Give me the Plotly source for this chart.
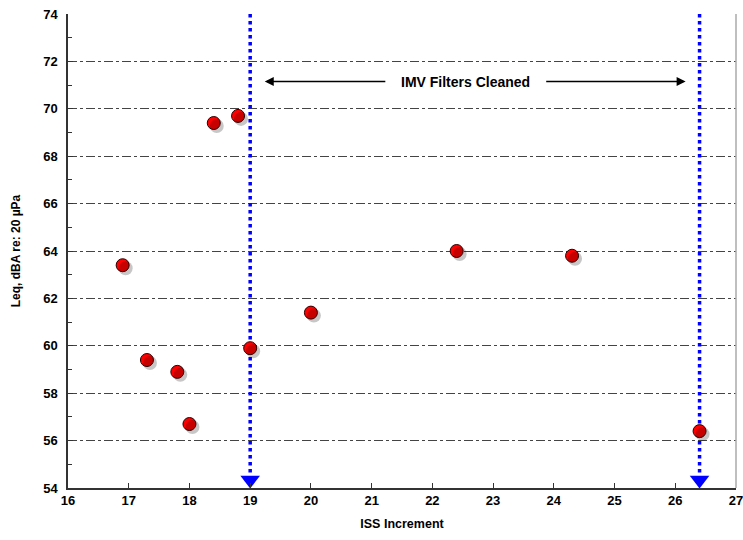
import plotly.graph_objects as go

# Data
iss_increment = [16.9, 17.3, 17.8, 18.0, 18.4, 18.8, 19.0, 20.0, 22.4, 24.3, 26.4]
leq_dba = [63.4, 59.4, 58.9, 56.7, 69.4, 69.7, 59.9, 61.4, 64.0, 63.8, 56.4]
cleaning_events = [19.0, 26.4]
x_ticks = list(range(16, 28))
y_ticks = list(range(54, 75, 2))
x_range = [16, 27]
y_range = [54, 74]

fig = go.Figure()

PX_X = (x_range[1] - x_range[0]) / 668.0
PX_Y = (y_range[1] - y_range[0]) / 474.0

# shadow of markers (overlaid axes shifted by a few px)
fig.add_trace(go.Scatter(
    x=iss_increment, y=leq_dba, mode="markers", xaxis="x2", yaxis="y2",
    marker=dict(size=14, color="rgba(0,0,0,0.22)", line=dict(width=0)),
    hoverinfo="skip", showlegend=False))

for xe in cleaning_events:
    fig.add_trace(go.Scatter(
        x=[xe, xe], y=[y_range[1], y_range[0] + 0.5], mode="lines",
        line=dict(color="#0000FF", width=3.5, dash="dot"),
        hoverinfo="skip", showlegend=False))
    fig.add_trace(go.Scatter(
        x=[xe], y=[y_range[0] + 8 * PX_Y], mode="markers",
        marker=dict(symbol="triangle-down", size=17, color="#0000FF", line=dict(width=0)),
        hoverinfo="skip", showlegend=False))

fig.add_trace(go.Scatter(
    x=iss_increment, y=leq_dba, mode="markers",
    marker=dict(size=13, color="#FF0000", line=dict(color="#300000", width=1)),
    showlegend=False))

label_y = 71.15
label_x = 22.55
fig.add_annotation(x=label_x, y=label_y, text="<b>IMV Filters Cleaned</b>", showarrow=False,
                   font=dict(family="Arial, Liberation Sans", size=14, color="black"))
fig.add_annotation(x=cleaning_events[0] + 0.24, y=label_y, ax=label_x - 1.3, ay=label_y,
                   axref="x", ayref="y", xref="x", yref="y", text="", showarrow=True,
                   arrowhead=2, arrowsize=1.2, arrowwidth=1.5, arrowcolor="black")
fig.add_annotation(x=cleaning_events[1] - 0.23, y=label_y, ax=label_x + 1.3, ay=label_y,
                   axref="x", ayref="y", xref="x", yref="y", text="", showarrow=True,
                   arrowhead=2, arrowsize=1.2, arrowwidth=1.5, arrowcolor="black")

tick_font = dict(family="Arial, Liberation Sans", size=13, color="black", weight="bold")

fig.update_layout(
    width=743, height=540,
    margin=dict(l=68, r=7, t=14, b=52, autoexpand=False),
    paper_bgcolor="white", plot_bgcolor="white",
    font=dict(family="Arial, Liberation Sans"),
    xaxis=dict(range=x_range, tickvals=x_ticks, showgrid=False, zeroline=False,
               automargin=False, ticklabeloverflow="allow",
               showline=True, linecolor="#333", linewidth=1.5,
               ticks="inside", ticklen=5, tickcolor="#333", tickfont=tick_font,
               title=dict(text="<b>ISS Increment</b>", font=dict(size=12.5, color="black"), standoff=12)),
    yaxis=dict(range=y_range, tickvals=y_ticks, showgrid=True, gridcolor="#444",
               griddash="dashdot", gridwidth=1, zeroline=False,
               automargin=False, ticklabeloverflow="allow",
               showline=True, linecolor="#333", linewidth=1.5,
               ticks="inside", ticklen=5, tickcolor="#333", tickfont=tick_font,
               ticklabelstandoff=6,
               minor=dict(ticks="inside", dtick=1, ticklen=4, tickcolor="#333", showgrid=False),
               title=dict(text="<b>Leq, dBA re: 20 µPa</b>", font=dict(size=12, color="black"), standoff=20)),
    xaxis2=dict(overlaying="x", range=[x_range[0] - 3 * PX_X, x_range[1] - 3 * PX_X], visible=False),
    yaxis2=dict(overlaying="y", range=[y_range[0] + 3 * PX_Y, y_range[1] + 3 * PX_Y], visible=False),
    shapes=[dict(type="line", xref="paper", yref="paper", x0=1, x1=1, y0=0, y1=1,
                 line=dict(color="#aaa", width=1.5))],
)

fig.write_html("out.html", config={"displayModeBar": False},
               post_script="document.body.style.margin='0';document.body.style.overflow='hidden';")
